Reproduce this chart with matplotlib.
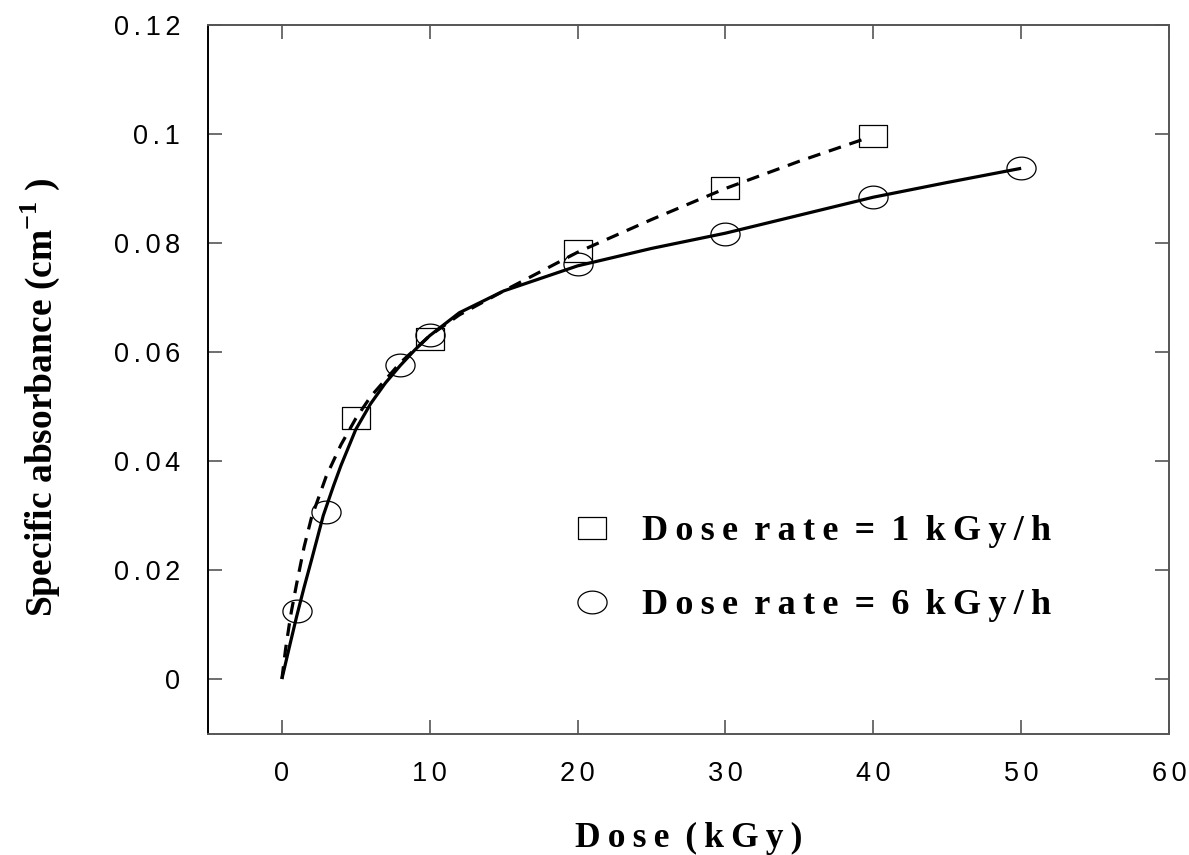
import numpy as np
import matplotlib
matplotlib.use("Agg")
import matplotlib.pyplot as plt
from matplotlib.path import Path
from matplotlib.lines import Line2D

# ---- data ----
dose_1kgy = [5, 10, 20, 30, 40]
abs_1kgy = [0.0478, 0.0624, 0.0785, 0.0900, 0.0997]

dose_6kgy = [1, 3, 8, 10, 20, 30, 40, 50]
abs_6kgy = [0.0125, 0.0306, 0.0576, 0.0631, 0.0761, 0.0816, 0.0885, 0.0937]

# fitted curves
fit_1_x = [0, 0.25, 0.5, 0.65, 1, 1.5, 2, 3, 4, 5, 6, 8, 10, 12, 15, 20, 25, 30, 35, 39.3]
fit_1_y = [0.0, 0.0055, 0.0100, 0.0125, 0.0175, 0.0242, 0.0296, 0.0372, 0.0430, 0.0478,
           0.0518, 0.0580, 0.0630, 0.0668, 0.0712, 0.0783, 0.0843, 0.0900, 0.0950, 0.0990]
fit_6_x = [0, 0.5, 1, 1.5, 2, 2.8, 3.5, 4, 5, 6, 7, 8, 9, 10, 12, 15, 20, 25, 30, 35, 40, 45, 50]
fit_6_y = [0.0, 0.0058, 0.0115, 0.0168, 0.0218, 0.0300, 0.0355, 0.0392, 0.0458, 0.0505,
           0.0543, 0.0575, 0.0604, 0.0630, 0.0672, 0.0712, 0.0758, 0.0790, 0.0818, 0.0851,
           0.0884, 0.0911, 0.0937]

x_ticks = [0, 10, 20, 30, 40, 50, 60]
y_ticks = [0, 0.02, 0.04, 0.06, 0.08, 0.10, 0.12]
y_tick_labels = ["0", "0.02", "0.04", "0.06", "0.08", "0.1", "0.12"]

legend_labels = ["Dose rate = 1 kGy/h", "Dose rate = 6 kGy/h"]

# ---- helpers ----
def spaced(s, sep="\u2009", word=" \u2009"):
    return word.join(sep.join(list(w)) for w in s.split(" "))

# elliptical marker paths (wider than tall)
t = np.linspace(0, 2 * np.pi, 60)
ell = Path(np.column_stack([np.cos(t), 0.78 * np.sin(t)]), closed=True)
rect = Path([(-1, -0.78), (1, -0.78), (1, 0.78), (-1, 0.78), (-1, -0.78)], closed=True)

fig = plt.figure(figsize=(11.89, 8.55), dpi=100)
ax = fig.add_axes([0.1749, 0.1421, 0.8083, 0.8287])

ax.plot(fit_6_x, fit_6_y, color="black", lw=2.3, solid_capstyle="butt")
ax.plot(fit_1_x, fit_1_y, color="black", lw=2.3, dashes=(4, 2.8))

ax.plot(dose_1kgy, abs_1kgy, ls="none", marker=rect, ms=20.5, mfc="none", mec="black", mew=0.9)
ax.plot(dose_6kgy, abs_6kgy, ls="none", marker=ell, ms=21, mfc="none", mec="black", mew=0.9)

ax.set_xlim(-5, 60)
ax.set_ylim(-0.01, 0.12)
tsep = "\u200a\u200a"
ax.set_xticks(x_ticks)
ax.set_xticklabels([spaced(str(v), tsep) for v in x_ticks], family="Liberation Sans", fontsize=19.5)
ax.set_yticks(y_ticks)
ax.set_yticklabels([spaced(s, tsep) for s in y_tick_labels], family="Liberation Sans", fontsize=19.5)

ax.tick_params(direction="in", length=10, width=1.2, color="#555555",
               top=True, right=True, pad=20)
for side in ["top", "right", "bottom"]:
    ax.spines[side].set_color("#555555")
    ax.spines[side].set_linewidth(1.4)
ax.spines["left"].set_color("black")
ax.spines["left"].set_linewidth(1.4)

ax.set_xlabel(spaced("Dose (kGy)"), family="Liberation Serif", fontweight="bold",
              fontsize=25.5, labelpad=25)
ax.set_ylabel("Specific absorbance (cm$^{\\mathregular{-1}}$ )", family="Liberation Serif",
              fontweight="bold", fontsize=27)
ax.yaxis.set_label_coords(-0.152, 0.475)

handles = [
    Line2D([], [], ls="none", marker=rect, ms=20.5, mfc="none", mec="black", mew=0.9),
    Line2D([], [], ls="none", marker=ell, ms=21, mfc="none", mec="black", mew=0.9),
]
leg = ax.legend(handles, [spaced(s) for s in legend_labels], frameon=False,
                loc="upper left", bbox_to_anchor=(0.343, 0.354),
                prop={"family": "Liberation Serif", "weight": "bold", "size": 26},
                handlelength=1.2, handletextpad=0.8, labelspacing=1.12)

fig.savefig("out.png", dpi=100)
